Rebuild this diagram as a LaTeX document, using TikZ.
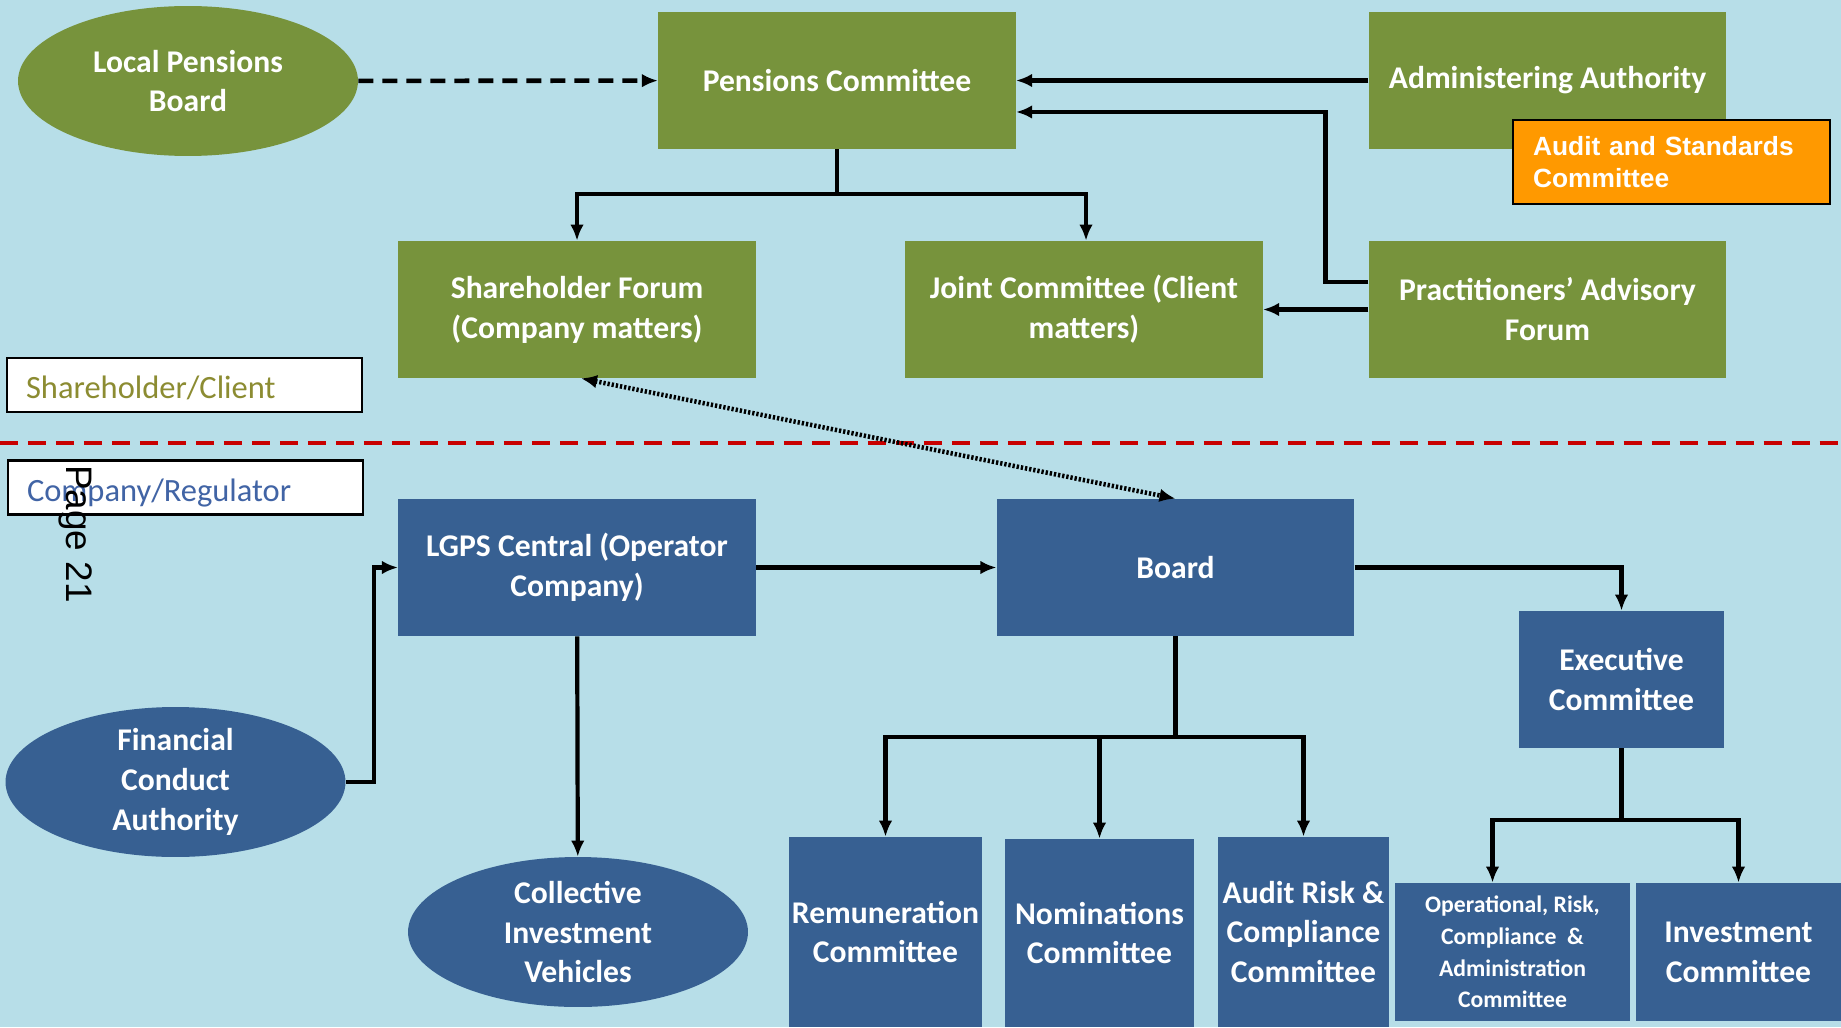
\documentclass[tikz,border=0pt]{standalone}
\usepackage{xcolor}
\usepackage{fontspec}
\setmainfont{Carlito}
\newfontfamily\arialfont{Liberation Sans}
\usepackage{tikz}
\usetikzlibrary{shapes.geometric,arrows.meta}

\definecolor{bgblue}{RGB}{183,222,232}
\definecolor{olivebox}{RGB}{119,147,60}
\definecolor{navybox}{RGB}{55,96,146}
\definecolor{orangebox}{RGB}{255,153,0}
\definecolor{redline}{RGB}{200,0,0}
\definecolor{clienttext}{RGB}{140,140,50}
\definecolor{companytext}{RGB}{65,100,165}

\tikzset{
    boxtext/.style={text=white, align=center, inner sep=1pt,
        font=\fontsize{18}{22.7}\selectfont\bfseries},
    greenbox/.style={boxtext, rectangle, fill=olivebox, minimum width=7.15cm, minimum height=2.74cm},
    bluebox/.style={boxtext, rectangle, fill=navybox, minimum width=7.15cm, minimum height=2.74cm},
    greenoval/.style={boxtext, ellipse, fill=olivebox, minimum width=6.8cm, minimum height=3cm, inner xsep=0pt, inner ysep=-6pt},
    blueoval/.style={boxtext, ellipse, fill=navybox, minimum width=6.8cm, minimum height=3cm, inner xsep=0pt, inner ysep=-6pt},
    keybox/.style={rectangle, draw=black, fill=white, line width=1.2pt, minimum width=7.1cm, minimum height=1.08cm,
        inner xsep=0.38cm, text width=6.34cm, text height=0.62cm, text depth=0.08cm, align=left,
        font=\fontsize{18.5}{22}\selectfont},
    link/.style={line width=2.4pt, -{Latex[length=0.32cm,width=0.27cm]}},
}

\begin{document}
\begin{tikzpicture}[x=0.02cm, y=-0.02cm]
    \useasboundingbox (0,0) rectangle (1841,1027);
    \fill[bgblue] (0,0) rectangle (1841,1027);

    \node[greenoval] (lpb) at (188,81) {Local Pensions\\Board};
    \node[greenbox] (pc) at (837,80.5) {Pensions Committee};
    \node[greenbox] (aa) at (1547.5,80.5) {Administering Authority};
    \node[rectangle, draw=black, line width=1.2pt, fill=orangebox, text=white, minimum width=6.34cm, minimum height=1.68cm,
        inner xsep=0.4cm, text width=5.54cm, align=left, font=\arialfont\fontsize{15}{18.6}\selectfont\bfseries]
        (asc) at (1671.5,162) {Audit and Standards\\Committee};
    \node[greenbox] (sf) at (577,309.5) {Shareholder Forum\\(Company matters)};
    \node[greenbox] (jc) at (1084,309.5) {Joint Committee (Client\\matters)};
    \node[greenbox] (paf) at (1547.5,309.5) {Practitioners’ Advisory\\Forum};

    \node[keybox, text=clienttext] (client) at (184.5,385) {Shareholder/Client};
    \node[keybox, text=companytext] (company) at (185.5,487.5) {Company/Regulator};

    \coordinate (divl) at (0,443);
    \coordinate (divr) at (1841,443);
    \draw[redline, line width=2.3pt, dash pattern=on 0.36cm off 0.2cm] (divl) -- (divr);

    \node[bluebox] (lgps) at (577,567.5) {LGPS Central (Operator\\Company)};
    \node[bluebox] (board) at (1175.5,567.5) {Board};
    \node[bluebox, minimum width=4.1cm] (exec) at (1621.5,679.5) {Executive\\Committee};
    \node[blueoval] (fca) at (175.5,782) {Financial\\Conduct\\Authority};
    \node[blueoval] (civ) at (578,932) {Collective\\Investment\\Vehicles};
    \node[bluebox, minimum width=3.86cm, minimum height=3.8cm, inner sep=0pt] (rem) at (885.5,932) {Remuneration\\Committee};
    \node[bluebox, minimum width=3.78cm, minimum height=3.76cm, inner sep=0pt] (nom) at (1099.5,933) {Nominations\\Committee};
    \node[bluebox, minimum width=3.42cm, minimum height=3.8cm, inner sep=0pt] (arc) at (1303.5,932) {Audit Risk \&\\Compliance\\Committee};
    \node[bluebox, minimum width=4.7cm, minimum height=2.76cm, font=\fontsize{13.5}{18}\selectfont\bfseries]
        (orc) at (1512.5,952) {Operational, Risk,\\Compliance \ \&\\Administration\\Committee};
    \node[bluebox, minimum width=4.1cm, minimum height=2.76cm] (inv) at (1738.5,952) {Investment\\Committee};

    \draw [link, dash pattern=on 0.3cm off 0.18cm, line width=2.6pt] (lpb) -- (pc);
    \draw [link] (aa) -- (pc);
    \draw [link] ([yshift=0.55cm]paf.west) -- ++(-43,0) |- ([yshift=-0.63cm]pc.east);
    \draw [link] (paf) -- (jc);
    \coordinate (pcsplit) at (837,194);
    \draw [line width=2.4pt] (pc) -- (pcsplit);
    \draw [link] (pcsplit) -| (sf);
    \draw [link] (pcsplit) -| ([xshift=0.04cm]jc.north);
    \draw [line width=2.6pt, dash pattern=on 1.3pt off 1.1pt, {Latex[length=0.32cm,width=0.27cm]}-{Latex[length=0.32cm,width=0.27cm]}]
        ([xshift=0.08cm]sf.south) -- (board.north);

    \draw [link] (fca.east) -- ++(28,0) |- (lgps.west);
    \draw [link] (lgps) -- (board);
    \draw [link] (lgps) -- (civ);
    \draw [link] (board.east) -| (exec.north);
    \coordinate (bsplit) at (1175.5,737);
    \draw [line width=2.4pt] (board) -- (bsplit);
    \draw [link] (bsplit) -| (rem.north);
    \draw [link] (bsplit) -| (nom.north);
    \draw [link] (bsplit) -| (arc.north);
    \coordinate (esplit) at (1621.5,820);
    \draw [line width=2.4pt] (exec) -- (esplit);
    \draw [link] (esplit) -| ([xshift=-0.4cm]orc.north);
    \draw [link] (esplit) -| (inv.north);

    \node[rotate=-90, font=\arialfont\fontsize{21}{25}\selectfont] (pagenum) at (76,534) {Page 21};
\end{tikzpicture}
\end{document}
